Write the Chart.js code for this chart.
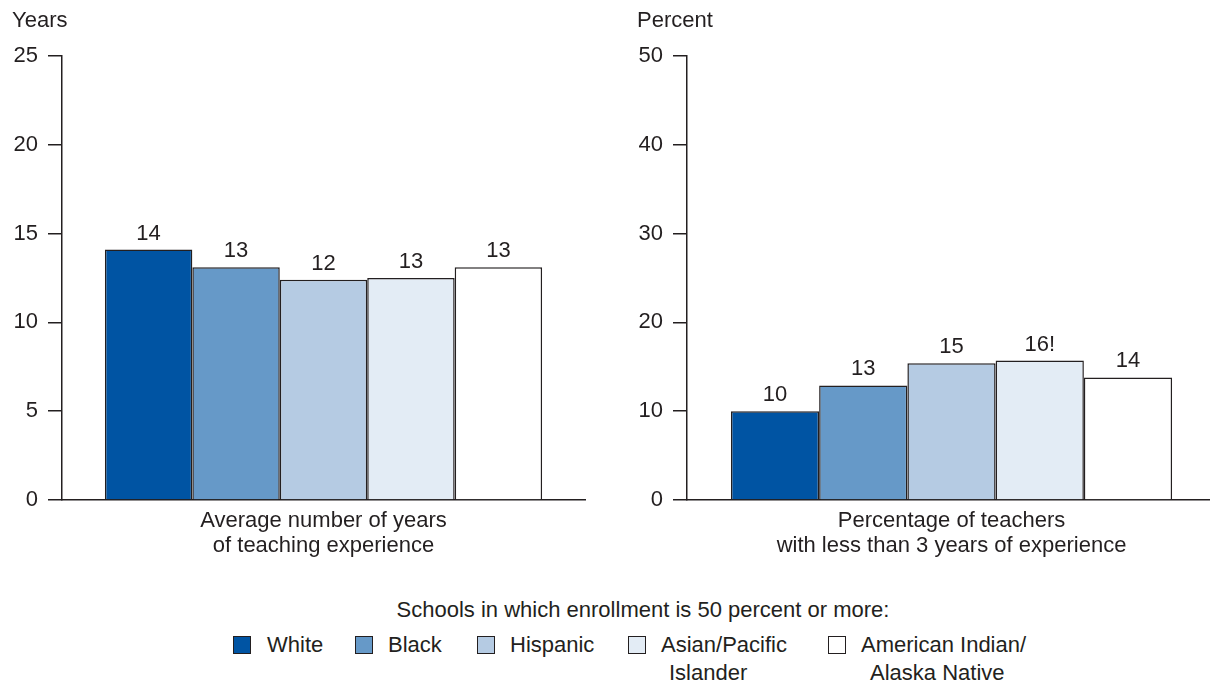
<!DOCTYPE html>
<html><head><meta charset="utf-8">
<script src="https://cdn.jsdelivr.net/npm/chart.js@4"></script>
<style>
html,body{margin:0;padding:0;background:#fff;overflow:hidden;width:1210px;height:685px;}
#wrap{position:relative;width:1210px;height:685px;overflow:hidden;font-family:'Liberation Sans',Arial,sans-serif;color:#231f20;font-size:22px;}
canvas{position:absolute;}
.t{position:absolute;white-space:nowrap;line-height:26px;}
.sq{position:absolute;width:18px;height:18px;box-sizing:border-box;border:1.5px solid #231f20;}
</style></head><body>
<div id="wrap">
<canvas id="c1" width="600" height="570" style="left:0;top:0;width:600px;height:570px"></canvas>
<canvas id="c2" width="600" height="570" style="left:625px;top:0;width:600px;height:570px"></canvas>
<div class="t" style="left:12px;top:7px">Years</div>
<div class="t" style="left:637px;top:7px">Percent</div>
<div id="legend"></div>
</div>
<script>
// ---- data ----
const SERIES = ['White', 'Black', 'Hispanic', 'Asian/Pacific Islander', 'American Indian/Alaska Native'];
const LEGEND_LINES = [['White'], ['Black'], ['Hispanic'], ['Asian/Pacific', 'Islander'], ['American Indian/', 'Alaska Native']];
const LEGEND_TITLE = 'Schools in which enrollment is 50 percent or more:';

const YEARS_CATEGORY = ['Average number of years', 'of teaching experience'];
const YEARS_VALUES = [14.1, 13.1, 12.4, 12.5, 13.1];
const YEARS_LABELS = ['14', '13', '12', '13', '13'];
const YEARS_MAX = 25, YEARS_STEP = 5;

const PCT_CATEGORY = ['Percentage of teachers', 'with less than 3 years of experience'];
const PCT_VALUES = [10.0, 12.9, 15.4, 15.7, 13.8];
const PCT_LABELS = ['10', '13', '15', '16!', '14'];
const PCT_MAX = 50, PCT_STEP = 10;

// ---- style ----
const COLORS = ['#0054a3', '#6699c8', '#b5cbe3', '#e3ecf5', '#ffffff'];
const INK = '#231f20';
const FONT = "'Liberation Sans', Arial, sans-serif";
Chart.defaults.font.family = FONT;
Chart.defaults.font.size = 22;
Chart.defaults.color = INK;

const valueLabelPlugin = {
  id: 'valueLabels',
  afterDatasetsDraw(chart, args, opts) {
    const ctx = chart.ctx;
    ctx.save();
    ctx.font = '22px ' + FONT;
    ctx.fillStyle = INK;
    ctx.textAlign = 'center';
    ctx.textBaseline = 'alphabetic';
    chart.data.datasets.forEach((ds, i) => {
      const meta = chart.getDatasetMeta(i);
      meta.data.forEach(el => ctx.fillText(opts.labels[i], el.x, el.y - 10));
    });
    ctx.restore();
  }
};

function makeChart(id, category, values, labels, max, step, catPct, padRight) {
  return new Chart(document.getElementById(id), {
    type: 'bar',
    data: {
      labels: [category],
      datasets: SERIES.map((name, i) => ({
        label: name,
        data: [values[i]],
        backgroundColor: COLORS[i],
        borderColor: INK,
        borderWidth: 1.5,
        borderSkipped: 'bottom',
        categoryPercentage: catPct,
        barPercentage: 1
      }))
    },
    options: {
      responsive: false,
      animation: false,
      devicePixelRatio: 1,
      layout: { padding: { top: 56, right: padRight, bottom: 0, left: 0 } },
      plugins: { legend: { display: false }, tooltip: { enabled: false }, valueLabels: { labels } },
      scales: {
        x: {
          grid: { display: false, drawTicks: false },
          border: { display: true, color: INK, width: 1.5 },
          ticks: { color: INK, font: { size: 22, lineHeight: 1.15 }, padding: 8 },
          afterFit: s => { s.height = 70; }
        },
        y: {
          min: 0, max: max,
          ticks: { stepSize: step, color: INK, font: { size: 22 }, padding: 10 },
          grid: { display: true, drawOnChartArea: false, drawTicks: true, tickLength: 14, color: INK, lineWidth: 1.5 },
          border: { display: true, color: INK, width: 1.5 },
          afterFit: s => { s.width = 62; }
        }
      }
    },
    plugins: [valueLabelPlugin]
  });
}

makeChart('c1', YEARS_CATEGORY, YEARS_VALUES, YEARS_LABELS, YEARS_MAX, YEARS_STEP, 0.836, 15);
makeChart('c2', PCT_CATEGORY, PCT_VALUES, PCT_LABELS, PCT_MAX, PCT_STEP, 0.834, 9);

// ---- legend (HTML) ----
const leg = document.getElementById('legend');
const title = document.createElement('div');
title.className = 't';
title.style.cssText = 'left:643px;top:597px;transform:translateX(-50%)';
title.textContent = LEGEND_TITLE;
leg.appendChild(title);
const SQ_X = [233, 355, 477, 628, 828];
const LINE_X = [[267], [388], [510], [661, 669], [861, 870]];
LEGEND_LINES.forEach((lines, i) => {
  const sq = document.createElement('div');
  sq.className = 'sq';
  sq.style.cssText = `left:${SQ_X[i]}px;top:636px;background:${COLORS[i]}`;
  leg.appendChild(sq);
  lines.forEach((ln, k) => {
    const d = document.createElement('div');
    d.className = 't';
    d.style.cssText = `left:${LINE_X[i][k]}px;top:${632 + k * 28}px`;
    d.textContent = ln;
    leg.appendChild(d);
  });
});
</script>
</body></html>
